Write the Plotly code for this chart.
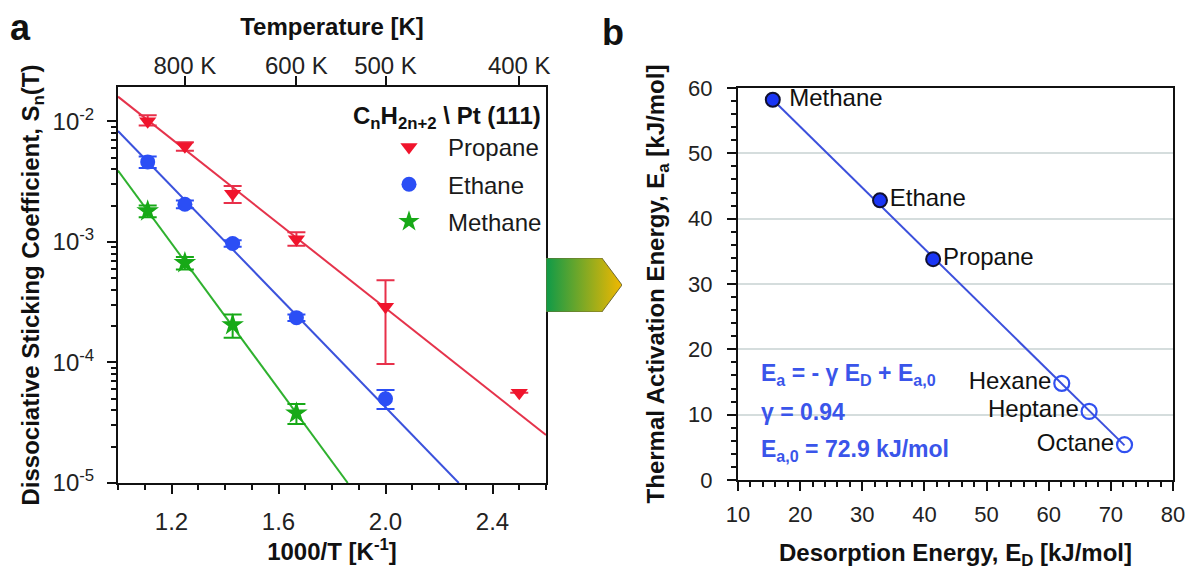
import plotly.graph_objects as go

# ---- panel a : sticking coefficient vs 1000/T ----
inv_T_propane = [1.111, 1.25, 1.4286, 1.667, 2.0, 2.5]
S_propane = [1.0e-2, 6.2e-3, 2.5e-3, 1.05e-3, 2.9e-4, 5.6e-5]
S_propane_up = [1.2e-3, 0.5e-3, 0.4e-3, 0.15e-3, 1.9e-4, 0]
S_propane_dn = [0.8e-3, 0.5e-3, 0.4e-3, 0.12e-3, 1.93e-4, 0]

inv_T_ethane = [1.111, 1.25, 1.4286, 1.667, 2.0]
S_ethane = [4.6e-3, 2.05e-3, 0.97e-3, 2.35e-4, 5.0e-5]
S_ethane_err = [0.5e-3, 0.15e-3, 0.06e-3, 0.15e-4, 0.9e-5]

inv_T_methane = [1.111, 1.25, 1.4286, 1.667]
S_methane = [1.8e-3, 6.7e-4, 2.05e-4, 3.8e-5]
S_methane_err = [0.2e-3, 0.8e-4, 0.45e-4, 0.72e-5]

# fitted Arrhenius lines (end points)
fit_propane_x = [1.0, 2.6]
fit_propane_y = [1.6e-2, 2.5e-5]
fit_ethane_x = [1.0, 2.274]
fit_ethane_y = [8.3e-3, 1.0e-5]
fit_methane_x = [1.0, 1.859]
fit_methane_y = [3.9e-3, 1.0e-5]

temp_ticks = [800, 600, 500, 400]

# ---- panel b : activation energy vs desorption energy ----
names_meas = ["Methane", "Ethane", "Propane"]
ED_meas = [15.6, 32.85, 41.4]
Ea_meas = [58.2, 42.8, 33.8]

names_pred = ["Hexane", "Heptane", "Octane"]
ED_pred = [62.1, 66.5, 72.2]
Ea_pred = [14.8, 10.5, 5.4]

fit_b_x = [15.6, 72.2]
fit_b_y = [58.2, 5.3]

RED = "#f0142c"
BLUE = "#2b4ef5"
GREEN = "#17a917"
EQ_BLUE = "#3a55ea"
FONT = "Liberation Sans, Arial, sans-serif"

W, H = 1189, 571


def px(v):
    return v / W


def py(v):
    return 1 - v / H


fig = go.Figure()

# fit lines panel a
for fx, fy, col in [(fit_propane_x, fit_propane_y, "#e5334b"),
                    (fit_ethane_x, fit_ethane_y, "#3b52dc"),
                    (fit_methane_x, fit_methane_y, "#2fb12f")]:
    fig.add_trace(go.Scatter(x=fx, y=fy, mode="lines", line=dict(color=col, width=2),
                             showlegend=False, hoverinfo="skip", xaxis="x", yaxis="y"))

fig.add_trace(go.Scatter(
    x=inv_T_propane, y=S_propane, mode="markers", name="Propane", legendgroup="p",
    marker=dict(symbol="triangle-down", size=15, color=RED),
    error_y=dict(type="data", array=S_propane_up, arrayminus=S_propane_dn,
                 color="#e8304a", thickness=2, width=9),
    xaxis="x", yaxis="y"))
fig.add_trace(go.Scatter(
    x=inv_T_ethane, y=S_ethane, mode="markers", name="Ethane", legendgroup="e",
    marker=dict(symbol="circle", size=15, color=BLUE),
    error_y=dict(type="data", array=S_ethane_err, color=BLUE, thickness=2, width=9),
    xaxis="x", yaxis="y"))
fig.add_trace(go.Scatter(
    x=inv_T_methane, y=S_methane, mode="markers", name="Methane", legendgroup="m",
    marker=dict(symbol="star", size=17, color=GREEN),
    error_y=dict(type="data", array=S_methane_err, color=GREEN, thickness=2, width=9),
    xaxis="x", yaxis="y"))

# invisible trace to carry the temperature axis
fig.add_trace(go.Scatter(x=[1000 / t for t in temp_ticks], y=[1e-3] * len(temp_ticks),
                         mode="markers", marker=dict(opacity=0), showlegend=False,
                         hoverinfo="skip", xaxis="x2", yaxis="y"))

# panel b
fig.add_trace(go.Scatter(x=fit_b_x, y=fit_b_y, mode="lines", line=dict(color="#3c50dc", width=2),
                         showlegend=False, hoverinfo="skip", xaxis="x4", yaxis="y4"))
fig.add_trace(go.Scatter(
    x=ED_meas, y=Ea_meas, mode="markers+text",
    text=[" " + names_meas[0]] + names_meas[1:],
    textposition="middle right", textfont=dict(size=24, color="#111", family=FONT),
    marker=dict(symbol="circle", size=14, color="#1a35f5", line=dict(color="#101030", width=2)),
    showlegend=False, xaxis="x4", yaxis="y4"))
fig.add_trace(go.Scatter(
    x=ED_pred, y=Ea_pred, mode="markers+text", text=names_pred,
    textposition="middle left", textfont=dict(size=24, color="#111", family=FONT),
    marker=dict(symbol="circle-open", size=15, color="#3050f0", line=dict(width=2.2)),
    showlegend=False, xaxis="x4", yaxis="y4"))

# gradient arrow between the panels
fig.add_trace(go.Scatter(
    x=[0, 0.735, 1, 0.735, 0, 0], y=[0, 0, 0.5, 1, 1, 0], mode="lines", fill="toself",
    fillgradient=dict(type="horizontal", colorscale=[[0, "#0e9a48"], [1, "#f2b800"]]),
    line=dict(color="#6e6a30", width=1), showlegend=False, hoverinfo="skip",
    xaxis="x3", yaxis="y3"))

ax_a_x = [px(118), px(546)]
ax_a_y = [py(483), py(87)]
ax_b_x = [px(738), px(1173)]
ax_b_y = [py(480), py(88)]

tickfont_a = dict(size=24, color="#222", family=FONT)
tickfont_b = dict(size=22, color="#222", family=FONT)
titlefont = dict(size=24, color="#111", family=FONT)
log_minor = [m * 10 ** e for e in range(-5, -1) for m in range(2, 10)]
line_kw = dict(showline=True, linecolor="#111", linewidth=2, ticks="outside", ticklen=9,
               tickwidth=2, tickcolor="#111", zeroline=False, automargin=False)

fig.update_layout(
    width=W, height=H,
    margin=dict(l=0, r=0, t=0, b=0, autoexpand=False),
    plot_bgcolor="white", paper_bgcolor="white",
    font=dict(family=FONT, color="#111"),
    xaxis=dict(domain=ax_a_x, range=[1.0, 2.6], tick0=1.2, dtick=0.4, tickformat=".1f",
               showgrid=False, tickfont=tickfont_a, ticklabelstandoff=7,
               minor=dict(tick0=1.0, dtick=0.1, ticks="outside", ticklen=5, tickwidth=1.5,
                          tickcolor="#111"),
               title=dict(text="<b>1000/T [K<sup>-1</sup>]</b>", font=titlefont, standoff=8),
               anchor="y", **line_kw),
    xaxis2=dict(domain=ax_a_x, range=[1.0, 2.6], overlaying="x", side="top", anchor="y",
                tickvals=[1000 / t for t in temp_ticks], ticktext=[f"{t} K" for t in temp_ticks],
                showgrid=False, tickfont=tickfont_a, ticklabelstandoff=-8,
                title=dict(text="<b>Temperature [K]</b>", font=titlefont, standoff=10),
                **line_kw),
    yaxis=dict(domain=ax_a_y, type="log", range=[-5, -1.716],
               tickvals=[1e-5, 1e-4, 1e-3, 1e-2],
               ticktext=["10<sup>-5</sup>", "10<sup>-4</sup>", "10<sup>-3</sup>", "10<sup>-2</sup>"],
               mirror=True, showgrid=False, tickfont=tickfont_a, ticklabelstandoff=8,
               minor=dict(tickvals=log_minor, ticks="outside", ticklen=5, tickwidth=1.5,
                          tickcolor="#111"),
               title=dict(text="<b>Dissociative Sticking Coefficient, S<sub>n</sub>(T)</b>",
                          font=titlefont, standoff=6),
               anchor="x", **line_kw),
    xaxis3=dict(domain=[px(546), px(622)], range=[0, 1], visible=False, anchor="y3"),
    yaxis3=dict(domain=[py(312), py(258)], range=[0, 1], visible=False, anchor="x3"),
    xaxis4=dict(domain=ax_b_x, range=[10, 80], dtick=10, mirror=True, showgrid=False,
                tickfont=tickfont_b, ticklabelstandoff=5,
                minor=dict(dtick=2, ticks="outside", ticklen=5, tickwidth=1.5, tickcolor="#111"),
                title=dict(text="<b>Desorption Energy, E<sub>D</sub> [kJ/mol]</b>",
                           font=titlefont, standoff=18),
                anchor="y4", **line_kw),
    yaxis4=dict(domain=ax_b_y, range=[0, 60], dtick=10, mirror=True,
                showgrid=True, gridcolor="#d5dddd", gridwidth=1.5,
                tickfont=tickfont_b, ticklabelstandoff=10,
                minor=dict(dtick=2, ticks="outside", ticklen=5, tickwidth=1.5, tickcolor="#111"),
                title=dict(text="<b>Thermal Activation Energy, E<sub>a</sub> [kJ/mol]</b>",
                           font=titlefont, standoff=17),
                anchor="x4", **line_kw),
    legend=dict(x=px(370), xanchor="left", y=py(125), yanchor="top",
                bgcolor="rgba(0,0,0,0)", font=dict(size=24, color="#1a1a1a"),
                tracegroupgap=3, itemwidth=68),
)

# legend heading, right aligned as in the original
fig.add_annotation(x=px(543), y=py(117), xref="paper", yref="paper",
                   text="<b>C<sub>n</sub>H<sub>2n+2</sub> \\ Pt (111)</b>", showarrow=False,
                   xanchor="right", yanchor="middle", font=dict(size=24, color="#111"))

fig.add_annotation(x=px(8), y=py(28), xref="paper", yref="paper", text="<b>a</b>",
                   showarrow=False, xanchor="left", yanchor="middle", font=dict(size=36))
fig.add_annotation(x=px(600), y=py(32), xref="paper", yref="paper", text="<b>b</b>",
                   showarrow=False, xanchor="left", yanchor="middle", font=dict(size=36))

eq_lines = ["E<sub>a</sub> = - γ E<sub>D</sub> + E<sub>a,0</sub>", "γ = 0.94",
            "E<sub>a,0</sub> = 72.9 kJ/mol"]
eq_y = [374, 412, 450]
for txt, yy in zip(eq_lines, eq_y):
    fig.add_annotation(x=px(759), y=py(yy), xref="paper", yref="paper",
                       text=f"<b>{txt}</b>", showarrow=False, xanchor="left", yanchor="middle",
                       font=dict(size=23, color=EQ_BLUE))

# drop the default page margin so the figure fills the window exactly
fig.write_html("out.html", config={"displayModeBar": False},
               post_script="document.body.style.margin = '0px';")
